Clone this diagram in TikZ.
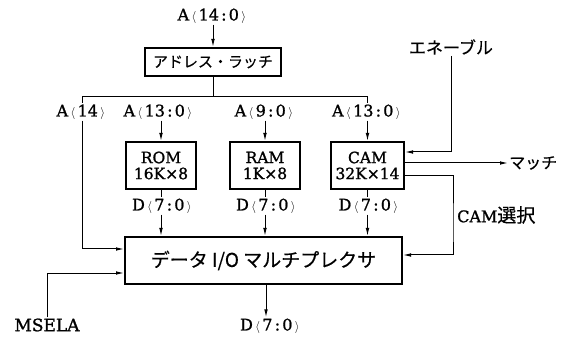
\documentclass[tikz,border=0pt]{standalone}
\usepackage{fontspec}
\setmainfont{DejaVu Serif}
\newfontfamily\lbf[FakeBold=1.2]{DejaVu Serif}
\newfontfamily\jp[FakeBold=0.5]{Noto Sans CJK JP}
\usetikzlibrary{arrows.meta,calc}
\newcommand\brk[1]{\kern2.4pt{\fontsize{13}{13}\selectfont\ensuremath{#1}}\kern2.4pt}
\newcommand\sig[2]{#1\brk{\langle}#2\brk{\rangle}}
\newcommand\cl{\kern2.2pt:\kern2.2pt}
\newcommand\lab{\lbf\fontsize{16}{19}\selectfont}
\begin{document}
\begin{tikzpicture}[x=1pt,y=-1pt,
  box/.style={draw,line width=2pt,inner sep=0pt,align=center,font={\lbf\fontsize{15.5}{18}\selectfont}},
  lbl/.style={inner sep=1pt,font=\lab},
  conn/.style={line width=1pt},
  arr/.style={conn,-{Latex[length=8pt,width=3.6pt]}}]
\useasboundingbox (0,0) rectangle (565,339);
% top
\node[lbl] (tA) at (213,16) {\sig{A}{14\cl0}};
\node[box,minimum width=136pt,minimum height=28pt,font={\jp\fontsize{15}{18}\selectfont}] (latch) at (213,62) {アドレス・ラッチ};
\coordinate (bus) at (213,97);
% memories
\node[box,minimum width=70pt,minimum height=47pt] (rom) at (161,165.5) {ROM\\[-2pt]16K×8};
\node[box,minimum width=70pt,minimum height=47pt] (ram) at (265,165.5) {RAM\\[-2pt]1K×8};
\node[box,minimum width=73pt,minimum height=47pt] (cam) at (367.5,165.5) {CAM\\[-2pt]32K×14};
% address labels
\node[lbl] (a14) at (82,112) {\sig{A}{14}};
\node[lbl] (aR) at (159,112) {\sig{A}{13\cl0}};
\node[lbl] (aM) at (265,112) {\sig{A}{9\cl0}};
\node[lbl] (aC) at (367.5,112) {\sig{A}{13\cl0}};
% data labels
\node[lbl] (dR) at (163,206) {\sig{D}{7\cl0}};
\node[lbl] (dM) at (267,206) {\sig{D}{7\cl0}};
\node[lbl] (dC) at (369.5,206) {\sig{D}{7\cl0}};
% mux
\node[box,minimum width=277pt,minimum height=47pt,font={\jp\fontsize{19}{22}\selectfont}] (mux) at (263.5,260.5) {データ I/O マルチプレクサ};
\node[lbl] (dO) at (271,326) {\sig{D}{7\cl0}};
\node[lbl,font={\lbf\fontsize{17}{20}\selectfont}] (msel) at (47,325) {MSELA};
% right side
\node[lbl,font={\jp\fontsize{17}{20}\selectfont}] (en) at (451,47) {エネーブル};
\node[lbl,font={\jp\fontsize{16}{19}\selectfont},anchor=west] (match) at (508,163) {マッチ};
\node[lbl,anchor=west] (csel) at (456,215) {CAM{\jp\fontsize{19}{20}\selectfont 選択}};
% connectors
\draw[arr] (tA.south) -- (latch.north);
\draw[conn] (latch.south) -- (bus);
\draw[conn] (a14.north |- bus) -- (aC.north |- bus);
\draw[conn] (a14.north |- bus) -- (a14.north);
\draw[conn] (aC.north |- bus) -- (aC.north);
\draw[arr] (aR.south -| rom.north) -- (rom.north);
\draw[arr] (aM.south -| ram.north) -- (ram.north);
\draw[arr] (aC.south) -- (cam.north);
\draw[conn] (rom.south) -- (rom.south |- dR.north);
\draw[conn] (ram.south) -- (ram.south |- dM.north);
\draw[conn] (cam.south) -- (cam.south |- dC.north);
\draw[arr] (rom.south |- dR.south) -- (rom.south |- mux.north);
\draw[arr] (ram.south |- dM.south) -- (ram.south |- mux.north);
\draw[arr] (cam.south |- dC.south) -- (cam.south |- mux.north);
\draw[arr] (a14.south) |- ([yshift=11.5pt]mux.west);
\draw[arr] (msel.north) |- ([yshift=-12.5pt]mux.west);
\draw[arr] (mux.south -| 266,0) -- (dO.north -| 266,0);
\draw[arr] (en.south) |- ([yshift=13.5pt]cam.east);
\draw[arr] ([yshift=2.5pt]cam.east) -- (match.west);
\draw[arr] ([yshift=-10.5pt]cam.east) -| (453,230) |- ([yshift=5.5pt]mux.east);
\end{tikzpicture}
\end{document}
